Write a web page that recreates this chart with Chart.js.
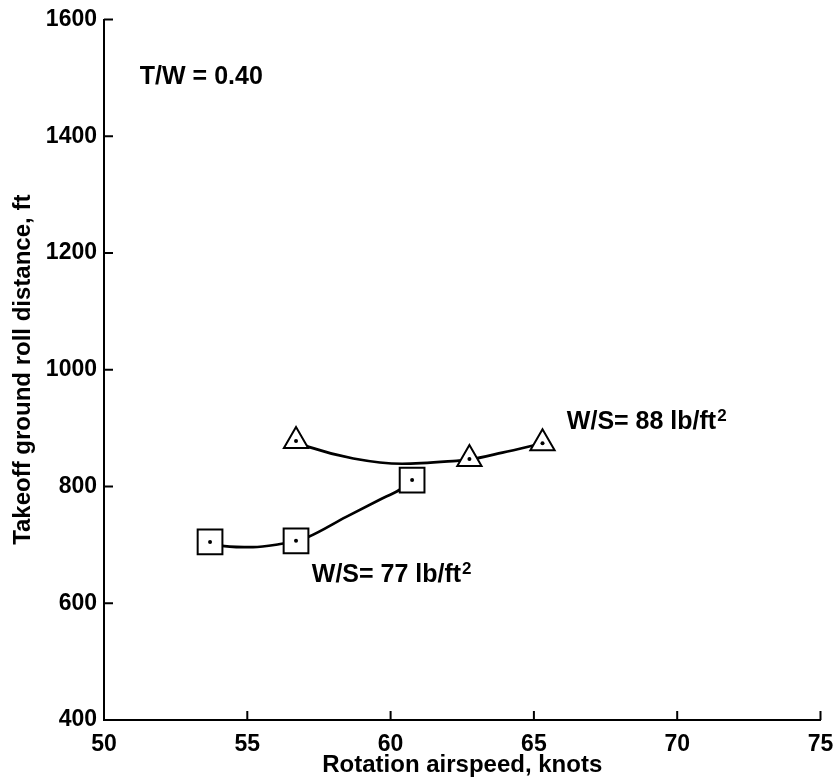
<!DOCTYPE html>
<html>
<head>
<meta charset="utf-8">
<script src="https://cdn.jsdelivr.net/npm/chart.js@4.4.0/dist/chart.umd.min.js"></script>
<style>
  body { margin: 0; background: #fff; }
</style>
</head>
<body>
<canvas id="rollChart" width="840" height="784"></canvas>
<script>
// tick values
const xTicks = [50, 55, 60, 65, 70, 75];
const yTicks = [400, 600, 800, 1000, 1200, 1400, 1600];

// test points, W/S = 77 (squares) and W/S = 88 (triangles)
const speed77 = [53.7, 56.7, 60.75];
const dist77 = [705, 707, 811];
const speed88 = [56.7, 62.75, 65.3];
const dist88 = [878, 847, 874];

// faired curves
const fitSpeed77 = [53.7, 54.2, 55.2, 56.1, 56.7, 57.1, 58.45, 59.6, 60.3, 60.75];
const fitDist77 = [704, 698, 696, 701, 707, 713, 748, 777, 794, 811];
const fitSpeed88 = [56.7, 57.2, 58.7, 60.4, 62.3, 62.75, 63.9, 65.3];
const fitDist88 = [877, 867, 848, 839, 844, 846, 858, 874];

const pts = (xs, ys) => xs.map((x, i) => ({ x: x, y: ys[i] }));

const FONT = '"Liberation Sans", Arial, Helvetica, sans-serif';

const inwardTicks = {
  id: 'inwardTicks',
  afterDraw(chart) {
    const { ctx, chartArea, scales } = chart;
    ctx.save();
    ctx.strokeStyle = '#000';
    ctx.lineWidth = 2;
    ctx.beginPath();
    xTicks.forEach(v => {
      const px = scales.x.getPixelForValue(v);
      ctx.moveTo(px, chartArea.bottom);
      ctx.lineTo(px, chartArea.bottom - 9);
    });
    yTicks.forEach(v => {
      const py = scales.y.getPixelForValue(v);
      ctx.moveTo(chartArea.left, py);
      ctx.lineTo(chartArea.left + 9, py);
    });
    ctx.stroke();
    ctx.restore();
  }
};

// text labels on the plot
const notes = {
  id: 'notes',
  afterDraw(chart) {
    const { ctx, scales } = chart;
    const put = (text, sup, xv, yv) => {
      const x = scales.x.getPixelForValue(xv);
      const y = scales.y.getPixelForValue(yv);
      ctx.font = 'bold 25px ' + FONT;
      ctx.fillText(text, x, y);
      if (sup) {
        const w = ctx.measureText(text).width;
        ctx.font = 'bold 17px ' + FONT;
        ctx.fillText(sup, x + w + 1, y - 8);
      }
    };
    ctx.save();
    ctx.fillStyle = '#000';
    ctx.textBaseline = 'alphabetic';
    ctx.textAlign = 'left';
    put('T/W = 0.40', '', 51.25, 1490);
    put('W/S= 88 lb/ft', '2', 66.15, 899);
    put('W/S= 77 lb/ft', '2', 57.25, 636);
    ctx.restore();
  }
};

const markerStyle = {
  showLine: false,
  backgroundColor: '#fff',
  borderColor: '#000',
  borderWidth: 2,
  order: 1
};
const dotStyle = {
  showLine: false,
  pointStyle: 'circle',
  pointRadius: 2,
  backgroundColor: '#000',
  borderWidth: 0,
  order: 0
};
const curveStyle = {
  showLine: true,
  pointRadius: 0,
  borderColor: '#000',
  borderWidth: 2.7,
  cubicInterpolationMode: 'monotone',
  order: 2
};

const ctx = document.getElementById('rollChart').getContext('2d');
const rollChart = new Chart(ctx, {
  type: 'scatter',
  data: {
    datasets: [
      Object.assign({ data: pts(speed77, dist77) }, dotStyle),
      Object.assign({ data: pts(speed88, dist88) }, dotStyle),
      Object.assign({ data: pts(speed77, dist77), pointStyle: 'rect', pointRadius: 17.5 }, markerStyle),
      Object.assign({ data: pts(speed88, dist88), pointStyle: 'triangle', pointRadius: 14 }, markerStyle),
      Object.assign({ data: pts(fitSpeed77, fitDist77) }, curveStyle),
      Object.assign({ data: pts(fitSpeed88, fitDist88) }, curveStyle)
    ]
  },
  options: {
    responsive: false,
    animation: false,
    layout: { padding: { top: 18, right: 18, left: 0, bottom: 0 } },
    plugins: {
      legend: { display: false },
      tooltip: { enabled: false }
    },
    scales: {
      x: {
        type: 'linear',
        min: 50,
        max: 75,
        afterBuildTicks: s => { s.ticks = xTicks.map(v => ({ value: v })); },
        afterFit: s => { s.height = 64; s.paddingLeft = 0; s.paddingRight = 0; },
        grid: { display: false, drawTicks: false },
        border: { display: true, color: '#000', width: 2 },
        ticks: { color: '#000', padding: 11, callback: v => String(v), font: { family: FONT, size: 23, weight: 'bold' } },
        title: {
          display: true,
          text: 'Rotation airspeed, knots',
          color: '#000',
          padding: { top: 0, bottom: 4 },
          font: { family: FONT, size: 24, weight: 'bold' }
        }
      },
      y: {
        type: 'linear',
        min: 400,
        max: 1600,
        afterBuildTicks: s => { s.ticks = yTicks.map(v => ({ value: v })); },
        afterFit: s => { s.width = 104; s.paddingTop = 0; s.paddingBottom = 0; },
        grid: { display: false, drawTicks: false },
        border: { display: true, color: '#000', width: 2 },
        ticks: { color: '#000', padding: 7, callback: v => String(v), font: { family: FONT, size: 23, weight: 'bold' } },
        title: {
          display: true,
          text: 'Takeoff ground roll distance, ft',
          color: '#000',
          padding: { top: 9, bottom: 0 },
          font: { family: FONT, size: 24, weight: 'bold' }
        }
      }
    }
  },
  plugins: [inwardTicks, notes]
});
</script>
</body>
</html>
